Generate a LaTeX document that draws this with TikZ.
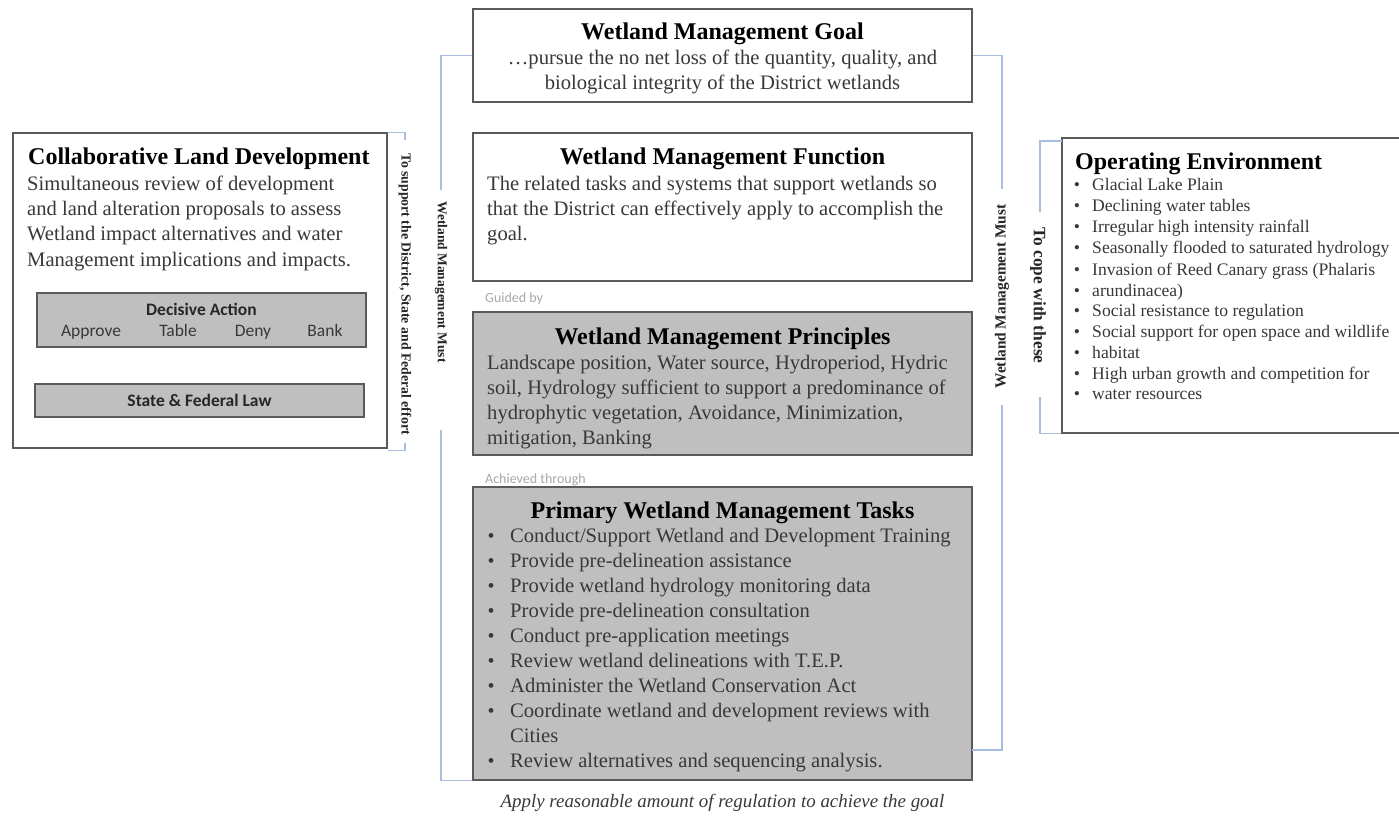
\documentclass[tikz,border=0pt]{standalone}
\usepackage{fontspec}
\setmainfont{Liberation Serif}
\newfontfamily\calfont{Carlito}
\definecolor{boxline}{HTML}{5A5A5A}
\definecolor{boxfill}{HTML}{BFBFBF}
\definecolor{brk}{HTML}{A9BDE0}
\definecolor{bodytxt}{HTML}{383838}
\definecolor{faint}{HTML}{A8A8A8}
\begin{document}
\begin{tikzpicture}[x=1pt,y=-1pt,
  wbox/.style={draw=boxline,line width=1.3pt,fill=white,minimum width=#1,inner sep=0pt},
  gbox/.style={draw=boxline,line width=1.3pt,fill=boxfill,minimum width=#1,inner sep=0pt},
  ttl/.style={font=\bfseries\fontsize{24}{28}\selectfont,text=black,inner sep=0pt,anchor=base},
  ttlw/.style={font=\bfseries\fontsize{24}{28}\selectfont,text=black,inner sep=0pt,anchor=base west},
  bd/.style={font=\fontsize{20.6}{25}\selectfont,text=bodytxt,inner sep=0pt,anchor=base west},
  bdc/.style={font=\fontsize{20.6}{25}\selectfont,text=bodytxt,inner sep=0pt,anchor=base},
  oe/.style={font=\fontsize{17.6}{20}\selectfont,text=bodytxt,inner sep=0pt,anchor=base west},
  bul/.style={font=\fontsize{20}{25}\selectfont,text=bodytxt,inner sep=0pt,anchor=base},
  sml/.style={font=\calfont\fontsize{14}{16}\selectfont,text=faint,inner sep=0pt,anchor=base west},
  cal/.style={font=\calfont\fontsize{17.5}{20}\selectfont,text=bodytxt,inner sep=0pt,anchor=base},
  calb/.style={font=\calfont\bfseries\fontsize{17.5}{20}\selectfont,text=black!85,inner sep=0pt,anchor=base},
  rot/.style={text=black!85,inner sep=0pt},
  bracket/.style={draw=brk,line width=1.2pt}
]
\useasboundingbox (0,0) rectangle (1399,818);
\clip (0,0) rectangle (1399,818);
\fill[white] (0,0) rectangle (1399,818);

% central boxes
\node[wbox=499pt,minimum height=93pt] (goal) at (722.5,55.5) {};
\node[wbox=499pt,minimum height=148pt] (func) at (722.5,207) {};
\node[gbox=499pt,minimum height=143pt] (prin) at (722.5,383.5) {};
\node[gbox=499pt,minimum height=293pt] (task) at (722.5,633.5) {};

% left box
\node[wbox=374pt,minimum height=315pt] (cld) at (200,290.5) {};
\node[gbox=329pt,minimum height=54pt] (dec) at (201.5,320) {};
\node[gbox=329pt,minimum height=33pt] (law) at (199.5,400.5) {};

% right box
\node[wbox=343pt,minimum height=295pt] (oenv) at (1233.5,285.5) {};

% goal text
\node[ttl] (goalT) at (722.5,40) {Wetland Management Goal};
\node[bdc] (goal1) at (722.5,65) {\ldots pursue the no net loss of the quantity, quality, and};
\node[bdc] (goal2) at (722.5,90) {biological integrity of the District wetlands};

% function text
\node[ttl] (funcT) at (722.5,165) {Wetland Management Function};
\node[bd] (func1) at (487,191) {The related tasks and systems that support wetlands so};
\node[bd] (func2) at (487,216) {that the District can effectively apply to accomplish the};
\node[bd] (func3) at (487,241) {goal.};

\node[sml] (guided) at (485,302) {Guided by};

% principles
\node[ttl] (prinT) at (722.5,344) {Wetland Management Principles};
\node[bd] (prin1) at (487,369) {Landscape position, Water source, Hydroperiod, Hydric};
\node[bd] (prin2) at (487,394) {soil, Hydrology sufficient to support a predominance of};
\node[bd] (prin3) at (487,419) {hydrophytic vegetation, Avoidance, Minimization,};
\node[bd] (prin4) at (487,444) {mitigation, Banking};

\node[sml] (achv) at (485,483) {Achieved through};

% tasks
\node[ttl] (taskT) at (722.5,518) {Primary Wetland Management Tasks};
\foreach \yy/\tx [count=\i] in {
 542/{Conduct/Support Wetland and Development Training},
 567/{Provide pre-delineation assistance},
 592/{Provide wetland hydrology monitoring data},
 617/{Provide pre-delineation consultation},
 642/{Conduct pre-application meetings},
 667/{Review wetland delineations with T.E.P.},
 692/{Administer the Wetland Conservation Act},
 717/{Coordinate wetland and development reviews with},
 767/{Review alternatives and sequencing analysis.}}{
  \node[bul] (tb\i) at (491,\yy) {\textbullet};
  \node[bd] (tt\i) at (510,\yy) {\tx};
}
\node[bd] (ttcities) at (510,742) {Cities};

\node[font=\itshape\fontsize{18.9}{22}\selectfont,text=bodytxt,inner sep=0pt,anchor=base] (capt) at (722.5,807) {Apply reasonable amount of regulation to achieve the goal};

% left box text
\node[ttlw] (cldT) at (28,165) {Collaborative Land Development};
\node[bd] (cld1) at (27,191) {Simultaneous review of development};
\node[bd] (cld2) at (27,216) {and land alteration proposals to assess};
\node[bd] (cld3) at (27,241) {Wetland impact alternatives and water};
\node[bd] (cld4) at (27,266) {Management implications and impacts.};
\node[calb] (decT) at (201.5,315) {Decisive Action};
\node[cal] (dA) at (91,336) {Approve};
\node[cal] (dT) at (178,336) {Table};
\node[cal] (dD) at (253,336) {Deny};
\node[cal] (dB) at (325,336) {Bank};
\node[calb,anchor=center] (lawT) at (law.center) {State \& Federal Law};

% operating environment
\node[ttlw] (oeT) at (1075,170) {Operating Environment};
\foreach \yy/\tx [count=\i] in {
 191/{Glacial Lake Plain},
 212/{Declining water tables},
 233/{Irregular high intensity rainfall},
 254/{Seasonally flooded to saturated hydrology},
 275/{Invasion of Reed Canary grass (Phalaris},
 296/{arundinacea)},
 316/{Social resistance to regulation},
 337/{Social support for open space and wildlife},
 358/{habitat},
 379/{High urban growth and competition for},
 399/{water resources}}{
  \node[oe,anchor=base] (ob\i) at (1077,\yy) {\textbullet};
  \node[oe] (ot\i) at (1092,\yy) {\tx};
}

% rotated labels
\node[rot,rotate=-90,font=\bfseries\fontsize{13.8}{16}\selectfont] (rsup) at (405,294) {To support the District, State and Federal effort};
\node[rot,rotate=-90,font=\bfseries\fontsize{13.5}{16}\selectfont] (rwl) at (441,282) {Wetland Management Must};
\node[rot,rotate=90,font=\bfseries\fontsize{15.4}{18}\selectfont] (rwr) at (1002,296.5) {Wetland Management Must};
\node[rot,rotate=-90,font=\bfseries\fontsize{17.4}{20}\selectfont] (rcope) at (1038,295.5) {To cope with these};

% bracket end points
\coordinate (supT) at (405,140);
\coordinate (supB) at (405,443);
\coordinate (wlT) at (441,190);
\coordinate (wlB) at (441,430);
\coordinate (wrT) at (1002,189);
\coordinate (wrB) at (1002,405);
\coordinate (rbot) at (972,750);
\coordinate (cpT) at (1040,212);
\coordinate (cpB) at (1040,397);
\coordinate (cpTop) at (1062,141);

% brackets
\draw[bracket] (cld.north east) -| (supT);
\draw[bracket] (cld.south east) ++(0,1.5) -| (supB);
\draw[bracket] (goal.west) -| (wlT);
\draw[bracket] (task.south west) -| (wlB);
\draw[bracket] (goal.east) -| (wrT);
\draw[bracket] (rbot) -| (wrB);
\draw[bracket] (cpTop) -| (cpT);
\draw[bracket] (oenv.south west) -| (cpB);
\end{tikzpicture}
\end{document}
